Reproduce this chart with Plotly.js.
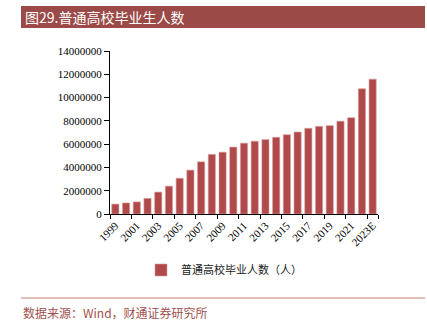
<!DOCTYPE html>
<html>
<head>
<meta charset="utf-8">
<script src="https://cdn.plot.ly/plotly-3.0.1.min.js"></script>
<style>html,body{margin:0;padding:0;background:#fff;}#chart{width:427px;height:328px;}</style>
</head>
<body>
<div id="chart"></div>
<script>
var years = ["1999","2000","2001","2002","2003","2004","2005","2006","2007","2008","2009","2010","2011","2012","2013","2014","2015","2016","2017","2018","2019","2020","2021","2022","2023E"];
var graduates = [850000,950000,1040000,1340000,1880000,2390000,3070000,3770000,4480000,5120000,5310000,5750000,6080000,6250000,6390000,6590000,6810000,7040000,7360000,7530000,7590000,7970000,8270000,10760000,11580000];
var tickLabels = ["0","2000000","4000000","6000000","8000000","10000000","12000000","14000000"];
var tickVals = [0,2000000,4000000,6000000,8000000,10000000,12000000,14000000];
var seriesName = "普通高校毕业人数（人）";
var chartTitle = "图29.普通高校毕业生人数";
var sourceText = "数据来源：Wind，财通证券研究所";

var L = 110, R = 378, T = 51, B = 214;
function px(x){ return (x - L) / (R - L); }
function py(y){ return (B - y) / (B - T); }

var trace = {
  type: 'bar',
  x: years,
  y: graduates,
  name: seriesName,
  marker: {color: '#b0494a', line: {color: '#d9a0a0', width: 0.6}},
  showlegend: true
};

var layout = {
  width: 427, height: 328,
  margin: {l: L, r: 427 - R, t: T, b: 328 - B},
  paper_bgcolor: '#ffffff',
  plot_bgcolor: '#ffffff',
  bargap: 0.33,
  font: {family: 'Liberation Serif, serif', size: 11, color: '#000'},
  xaxis: {
    type: 'category',
    tickmode: 'array',
    tickvals: years.filter(function(d,i){return i%2===0;}),
    ticktext: years.filter(function(d,i){return i%2===0;}),
    tickangle: -45,
    tickfont: {family: 'Liberation Serif, serif', size: 11, color: '#000'},
    showline: true, linecolor: '#000', linewidth: 1,
    ticks: 'outside', ticklen: 4, tickcolor: '#000',
    tickson: 'boundaries',
    showgrid: false, zeroline: false
  },
  yaxis: {
    range: [0, 14000000],
    tickmode: 'array',
    tickvals: tickVals,
    ticktext: tickLabels,
    tickfont: {family: 'Liberation Serif, serif', size: 11, color: '#000'},
    showline: true, linecolor: '#000', linewidth: 1,
    ticks: 'outside', ticklen: 5, tickcolor: '#000',
    showgrid: false, zeroline: false
  },
  showlegend: true,
  legend: {
    orientation: 'h',
    x: px(224), xanchor: 'center',
    y: py(270), yanchor: 'middle',
    font: {family: 'Noto Sans CJK SC, sans-serif', size: 11, color: '#222'},
    itemwidth: 30,
    bgcolor: 'rgba(0,0,0,0)'
  },
  shapes: [
    {type: 'rect', xref: 'paper', yref: 'paper', x0: px(21), x1: px(425), y0: py(28), y1: py(6),
     fillcolor: '#9b4a47', line: {width: 0}, layer: 'above'},
    {type: 'line', xref: 'paper', yref: 'paper', x0: px(21), x1: px(425), y0: py(298), y1: py(298),
     line: {color: '#c47f7b', width: 1}}
  ],
  annotations: [
    {xref: 'paper', yref: 'paper', x: px(23), y: py(17), xanchor: 'left', yanchor: 'middle',
     text: chartTitle, showarrow: false,
     font: {family: 'Noto Sans CJK SC, sans-serif', size: 14, color: '#ffffff'}},
    {xref: 'paper', yref: 'paper', x: px(21), y: py(312), xanchor: 'left', yanchor: 'middle',
     text: sourceText, showarrow: false,
     font: {family: 'Noto Sans CJK SC, sans-serif', size: 12, color: '#a0504d'}}
  ]
};

Plotly.newPlot('chart', [trace], layout, {displayModeBar: false, staticPlot: true});
</script>
</body>
</html>
